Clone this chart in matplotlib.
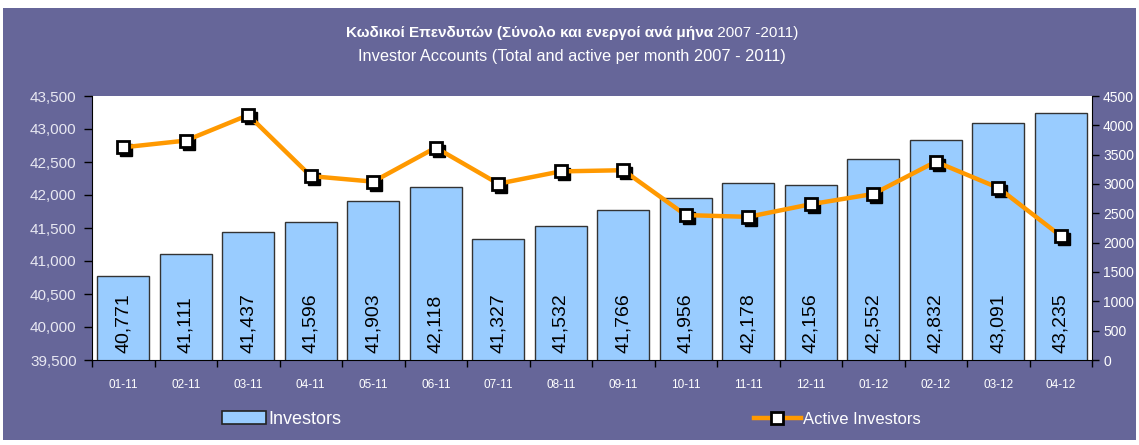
import matplotlib
matplotlib.use("Agg")
import matplotlib.pyplot as plt
import matplotlib.transforms as mtransforms
from matplotlib.patches import Rectangle, Patch
from matplotlib.lines import Line2D
import numpy as np

plt.rcParams['font.family'] = ['Liberation Sans', 'DejaVu Sans']

months = ["01-11", "02-11", "03-11", "04-11", "05-11", "06-11", "07-11", "08-11",
          "09-11", "10-11", "11-11", "12-11", "01-12", "02-12", "03-12", "04-12"]
investors = [40771, 41111, 41437, 41596, 41903, 42118, 41327, 41532,
             41766, 41956, 42178, 42156, 42552, 42832, 43091, 43235]
active = [3625, 3740, 4175, 3135, 3040, 3620, 3005, 3215,
          3235, 2470, 2440, 2655, 2830, 3380, 2935, 2115]

title_gr = "Κωδικοί Επενδυτών (Σύνολο και ενεργοί ανά μήνα"
title_gr_tail = " 2007 -2011)"
title_en = "Investor Accounts (Total and active per month 2007 - 2011)"

W, H = 1139, 445
PURPLE = "#666699"
BAR = "#99ccff"
ORANGE = "#ff9900"

fig = plt.figure(figsize=(W / 100, H / 100), dpi=100, facecolor="white")
fig.patches.append(Rectangle((3 / W, 5 / H), 1133 / W, 432 / H, transform=fig.transFigure,
                             facecolor=PURPLE, edgecolor="none", zorder=-10))

ax = fig.add_axes([92 / W, (H - 360) / H, 1000 / W, 264 / H])
ax.set_facecolor("white")
x = np.arange(len(months))

ax.bar(x, investors, width=0.83, color=BAR, edgecolor="#333333", linewidth=1, zorder=2)
ax.set_ylim(39500, 43500)
ax.set_xlim(-0.5, len(months) - 0.5)
ax.set_yticks(np.arange(39500, 43501, 500))
ax.yaxis.set_major_formatter(matplotlib.ticker.StrMethodFormatter("{x:,.0f}"))
ax.tick_params(axis="y", colors="black", labelcolor="#e8e8f2", labelsize=11,
               length=6, width=1, pad=5)
ax.set_xticks(x)
ax.set_xticklabels(months)
ax.set_xticks(np.arange(-0.5, len(months), 1), minor=True)
ax.tick_params(axis="x", which="major", length=0, labelcolor="white", labelsize=8.5, pad=14)
ax.tick_params(axis="x", which="minor", length=5, width=1, color="black")
ax.spines["top"].set_visible(False)
ax.spines["right"].set_visible(False)

for i, v in enumerate(investors):
    ax.annotate(f"{v:,}", xy=(i, 39500), xytext=(0, 5), textcoords="offset points",
                rotation=90, ha="center", va="bottom", fontsize=14, color="black", zorder=3)

ax2 = ax.twinx()
ax2.set_ylim(0, 4500)
ax2.set_yticks(np.arange(0, 4501, 500))
ax2.tick_params(axis="y", colors="black", labelcolor="white", labelsize=10,
                length=5, width=1, pad=3)
for s in ["top", "left", "bottom"]:
    ax2.spines[s].set_visible(False)

shadow = mtransforms.offset_copy(ax2.transData, fig=fig, x=3, y=-3, units="dots")
ax2.plot(x, active, linestyle="none", marker="s", markersize=8.5, color="black",
         transform=shadow, zorder=3)
ax2.plot(x, active, color=ORANGE, linewidth=3.2, zorder=4)
ax2.plot(x, active, linestyle="none", marker="s", markersize=8.5, markerfacecolor="white",
         markeredgecolor="black", markeredgewidth=2, zorder=5)

# title, first line: bold greek part + normal tail, centred together
t1 = fig.text(0, 1 - 33 / H, title_gr, ha="left", va="center", fontsize=11,
              fontweight="bold", color="white")
t2 = fig.text(0, 1 - 33 / H, title_gr_tail, ha="left", va="center", fontsize=11,
              color="white")
fig.text(572 / W, 1 - 57 / H, title_en, ha="center", va="center", fontsize=11.8,
         color="white")
r = fig.canvas.get_renderer()
w1 = t1.get_window_extent(r).width
w2 = t2.get_window_extent(r).width
x0 = 572 - (w1 + w2) / 2
t1.set_x(x0 / W)
t2.set_x((x0 + w1) / W)

# legends
h1 = Patch(facecolor=BAR, edgecolor="#222222", linewidth=1.2)
fig.legend([h1], ["Investors"], loc="center left",
           bbox_to_anchor=(206 / W, 1 - 419 / H), frameon=False, fontsize=13,
           labelcolor="white", handlelength=2.4, handleheight=0.75, handletextpad=0.15)
h2 = Line2D([], [], color=ORANGE, linewidth=3.2, marker="s", markersize=8.5,
            markerfacecolor="white", markeredgecolor="black", markeredgewidth=2)
fig.legend([h2], ["Active Investors"], loc="center left",
           bbox_to_anchor=(739 / W, 1 - 419 / H), frameon=False, fontsize=12,
           labelcolor="white", handlelength=2.8, handletextpad=0.15)

fig.savefig("out.png", dpi=100, facecolor="white")
